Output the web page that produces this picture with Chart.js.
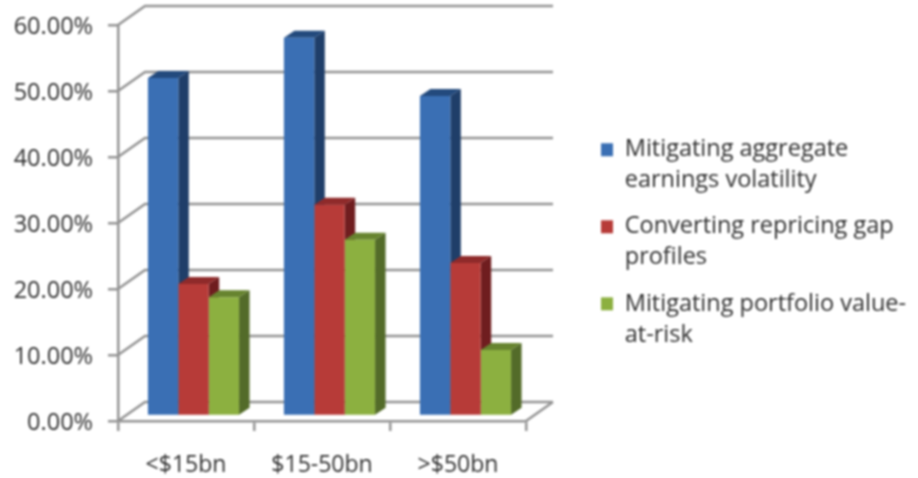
<!DOCTYPE html>
<html>
<head>
<meta charset="utf-8">
<style>
html,body{margin:0;padding:0;background:#fff}
canvas{display:block;filter:blur(0.9px)}
</style>
<script src="https://cdn.jsdelivr.net/npm/chart.js@4"></script>
</head>
<body>
<canvas id="c" width="918" height="478"></canvas>
<script>
const categories = ['<$15bn', '$15-50bn', '>$50bn'];
const aggregateVolatility = [51.2, 57.3, 48.5];
const repricingGap = [20, 32, 23.2];
const portfolioVaR = [18, 26.7, 10];
const seriesNames = [
  ['Mitigating aggregate', 'earnings volatility'],
  ['Converting repricing gap', 'profiles'],
  ['Mitigating portfolio value-', 'at-risk']
];
const frontColors = ['#3a6fb4', '#b73b38', '#8cb040'];
const sideColors = ['#1f3e69', '#6f1d1f', '#536b29'];
const topColors = ['#234a7d', '#8f2a2a', '#67842f'];

const GRID = '#939393', TEXT = '#2e2e2e';
const WALL = {dx: 27, dy: 19};      // depth of the chart box
const BAR_PLANE = {dx: 7.5, dy: 5}; // bars stand part way into the box
const BAR_DEPTH = {dx: 10.5, dy: 7};  // depth of each bar
const LEGEND_BOX = {left: 586, top: 123, right: 918, bottom: 410};

const box3d = {
  id: 'box3d',
  afterUpdate(chart) {
    Object.assign(chart.legend, LEGEND_BOX);
  },
  beforeDatasetsDraw(chart) {
    const {ctx, scales: {x, y}} = chart;
    ctx.save();
    ctx.strokeStyle = GRID;
    ctx.lineWidth = 2.5;
    ctx.beginPath();
    y.ticks.forEach(t => {
      const py = y.getPixelForValue(t.value);
      ctx.moveTo(x.left, py);
      ctx.lineTo(x.left + WALL.dx, py - WALL.dy);
      ctx.lineTo(x.right + WALL.dx, py - WALL.dy);
    });
    const y0 = y.getPixelForValue(0);
    ctx.moveTo(x.right, y0);
    ctx.lineTo(x.right + WALL.dx, y0 - WALL.dy);
    ctx.stroke();
    ctx.restore();

    ctx.save();
    ctx.translate(BAR_PLANE.dx, -BAR_PLANE.dy);
    chart.data.datasets.forEach((ds, i) => {
      chart.getDatasetMeta(i).data.forEach(b => {
        const l = b.x - b.width / 2, r = b.x + b.width / 2;
        const t = b.y, bt = b.base;
        ctx.fillStyle = sideColors[i];
        ctx.beginPath();
        ctx.moveTo(r, t);
        ctx.lineTo(r + BAR_DEPTH.dx, t - BAR_DEPTH.dy);
        ctx.lineTo(r + BAR_DEPTH.dx, bt - BAR_DEPTH.dy);
        ctx.lineTo(r, bt);
        ctx.closePath();
        ctx.fill();
        ctx.fillStyle = topColors[i];
        ctx.beginPath();
        ctx.moveTo(l, t);
        ctx.lineTo(l + BAR_DEPTH.dx, t - BAR_DEPTH.dy);
        ctx.lineTo(r + BAR_DEPTH.dx, t - BAR_DEPTH.dy);
        ctx.lineTo(r, t);
        ctx.closePath();
        ctx.fill();
      });
    });
    // fronts are drawn by Chart.js inside this same shifted plane
  },
  afterDatasetsDraw(chart) {
    chart.ctx.restore();
  }
};

new Chart(document.getElementById('c'), {
  type: 'bar',
  data: {
    labels: categories,
    datasets: [
      {label: seriesNames[0], data: aggregateVolatility, backgroundColor: frontColors[0]},
      {label: seriesNames[1], data: repricingGap, backgroundColor: frontColors[1]},
      {label: seriesNames[2], data: portfolioVaR, backgroundColor: frontColors[2]}
    ]
  },
  plugins: [box3d],
  options: {
    responsive: false,
    animation: false,
    layout: {padding: {left: 0, top: 25, right: 392, bottom: 0}},
    datasets: {bar: {barPercentage: 1, categoryPercentage: 0.67}},
    scales: {
      x: {
        afterFit(s) { s.height = 57; },
        grid: {drawOnChartArea: false, color: GRID, lineWidth: 2.5, tickLength: 10},
        border: {color: GRID, width: 2.5},
        ticks: {color: TEXT, padding: 21, font: {family: 'Open Sans', size: 23}, maxRotation: 0}
      },
      y: {
        min: 0, max: 60,
        afterFit(s) { s.width = 118; s.paddingTop = 0; s.paddingBottom = 0; },
        grid: {drawOnChartArea: false, color: GRID, lineWidth: 2.5, tickLength: 10},
        border: {color: GRID, width: 2.5},
        ticks: {
          stepSize: 10, color: TEXT, padding: 15, labelOffset: 2,
          font: {family: 'Open Sans', size: 23.5},
          callback: v => v.toFixed(2) + '%'
        }
      }
    },
    plugins: {
      tooltip: {enabled: false},
      title: {display: false},
      legend: {
        position: 'chartArea',
        align: 'start',
        labels: {
          color: TEXT, boxWidth: 12, boxHeight: 13, padding: 15,
          font: {family: 'Open Sans', size: 23.5, lineHeight: 1.32}
        }
      }
    }
  }
});
</script>
</body>
</html>
